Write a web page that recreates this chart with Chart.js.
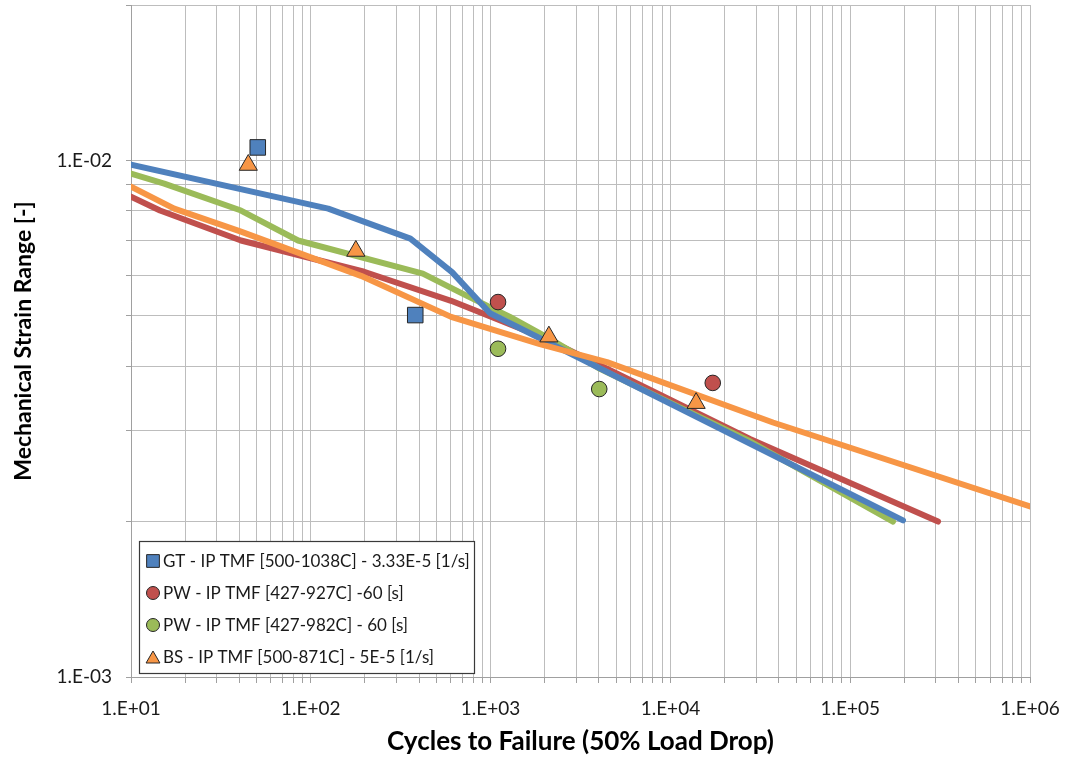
<!DOCTYPE html>
<html>
<head>
<meta charset="utf-8">
<script src="https://cdn.jsdelivr.net/npm/chart.js@4.4.1/dist/chart.umd.min.js"></script>
<style>
  html, body { margin: 0; padding: 0; background: #ffffff; }
  #wrap { width: 1072px; height: 761px; }
</style>
</head>
<body>
<div id="wrap"><canvas id="chart" width="1072" height="761"></canvas></div>
<script>
// ---- Test data (cycles to failure vs. mechanical strain range) ----
const seriesLabels = [
  'GT - IP TMF [500-1038C] - 3.33E-5 [1/s]',
  'PW - IP TMF [427-927C] -60 [s]',
  'PW - IP TMF [427-982C] - 60 [s]',
  'BS - IP TMF [500-871C] - 5E-5 [1/s]'
];

const gtCycles = [50.7, 381];
const gtStrain = [0.0106, 0.00502];

const pw927Cycles = [1100, 17200];
const pw927Strain = [0.00532, 0.00371];

const pw982Cycles = [1100, 4020];
const pw982Strain = [0.00432, 0.00361];

const bsCycles = [44.9, 178, 2110, 13900];
const bsStrain = [0.0098, 0.00668, 0.00456, 0.00339];

// ---- Life-prediction curves ----
const gtFitCycles = [10, 125, 358, 610, 993, 196600];
const gtFitStrain = [0.00982, 0.00807, 0.00706, 0.00608, 0.00506, 0.00201];

const pw927FitCycles = [10, 14.5, 40.9, 198, 603, 2060, 27700, 308000];
const pw927FitStrain = [0.00851, 0.0080, 0.00700, 0.00609, 0.00535, 0.00451, 0.00289, 0.0020];

const pw982FitCycles = [10, 15.3, 40.9, 85, 420, 739, 1282, 2150, 4060, 27700, 173000];
const pw982FitStrain = [0.00943, 0.00902, 0.0080, 0.00700, 0.00604, 0.00547, 0.00498, 0.00451, 0.00395, 0.00286, 0.0020];

const bsFitCycles = [10, 17.4, 40.9, 190, 603, 1880, 4440, 37200, 1000000];
const bsFitStrain = [0.0089, 0.00807, 0.00728, 0.00598, 0.00498, 0.00441, 0.00407, 0.00311, 0.00214];

// ---- Axis tick labels (decades) ----
const xTickValues = [1e1, 1e2, 1e3, 1e4, 1e5, 1e6];
const xTickLabels = ['1.E+01', '1.E+02', '1.E+03', '1.E+04', '1.E+05', '1.E+06'];
const yTickValues = [1e-3, 1e-2];
const yTickLabels = ['1.E-03', '1.E-02'];

const colors = {
  blue: '#4F81BD',
  red: '#C0504D',
  green: '#9BBB59',
  orange: '#F79646'
};

const toPoints = (xs, ys) => xs.map((x, i) => ({ x: x, y: ys[i] }));

// All 1..9 multiples per decade, so that every minor gridline is drawn
function logTicks(min, max) {
  const out = [];
  for (let e = Math.floor(Math.log10(min)); e <= Math.ceil(Math.log10(max)); e++) {
    for (let m = 1; m <= 9; m++) {
      const v = +(m * Math.pow(10, e)).toPrecision(6);
      if (v >= min * 0.999999 && v <= max * 1.000001) out.push({ value: v });
    }
  }
  return out;
}

function decadeLabel(value, values, labels) {
  for (let i = 0; i < values.length; i++) {
    if (Math.abs(Math.log10(value) - Math.log10(values[i])) < 1e-6) return labels[i];
  }
  return '';
}

function markerSet(label, xs, ys, color, style, radius) {
  return {
    type: 'scatter',
    label: label,
    data: toPoints(xs, ys),
    pointStyle: style,
    pointRadius: radius,
    pointHoverRadius: radius,
    backgroundColor: color,
    borderColor: '#262626',
    pointBorderWidth: 1,
    showLine: false,
    isMarker: true
  };
}

function curveSet(xs, ys, color) {
  return {
    type: 'line',
    label: '',
    data: toPoints(xs, ys),
    borderColor: color,
    backgroundColor: color,
    borderWidth: 6,
    pointRadius: 0,
    pointHoverRadius: 0,
    tension: 0,
    fill: false,
    borderCapStyle: 'round',
    borderJoinStyle: 'round',
    isMarker: false
  };
}

// Legend boxed inside the lower-left of the plot
const insideLegend = {
  id: 'insideLegend',
  afterDatasetsDraw(chart) {
    const ctx = chart.ctx;
    const area = chart.chartArea;
    const left = area.left + 8, top = 541, w = 335, h = 132;
    ctx.save();
    ctx.fillStyle = '#ffffff';
    ctx.fillRect(left, top, w, h);
    ctx.strokeStyle = '#3a3a3a';
    ctx.lineWidth = 1.2;
    ctx.strokeRect(left + 0.5, top + 0.5, w, h);
    const markers = chart.data.datasets.filter(d => d.isMarker);
    ctx.font = '17px Lato';
    ctx.textBaseline = 'middle';
    markers.forEach((d, i) => {
      const cy = top + 20 + i * 32;
      ctx.fillStyle = d.backgroundColor;
      ctx.strokeStyle = d.borderColor;
      ctx.lineWidth = 1;
      const r = d.pointStyle === 'rect' ? 9 : (d.pointStyle === 'triangle' ? 8 : 6.5);
      Chart.helpers.drawPoint(ctx, { pointStyle: d.pointStyle, radius: r, borderWidth: 1 }, left + 14, cy + (d.pointStyle === 'triangle' ? 2 : 0));
      ctx.fillStyle = '#1a1a1a';
      ctx.fillText(d.label, left + 24, cy + 1);
    });
    ctx.restore();
  }
};

// Plot area is fixed by the scale boxes; drop the label overhang padding
function fixBox(size, key) {
  return s => {
    s[key] = size;
    s.paddingTop = 0; s.paddingBottom = 0; s.paddingLeft = 0; s.paddingRight = 0;
  };
}

const ctx = document.getElementById('chart').getContext('2d');
new Chart(ctx, {
  data: {
    datasets: [
      markerSet(seriesLabels[0], gtCycles, gtStrain, colors.blue, 'rect', 11),
      markerSet(seriesLabels[1], pw927Cycles, pw927Strain, colors.red, 'circle', 7.8),
      markerSet(seriesLabels[2], pw982Cycles, pw982Strain, colors.green, 'circle', 7.8),
      markerSet(seriesLabels[3], bsCycles, bsStrain, colors.orange, 'triangle', 10.5),
      curveSet(bsFitCycles, bsFitStrain, colors.orange),
      curveSet(gtFitCycles, gtFitStrain, colors.blue),
      curveSet(pw982FitCycles, pw982FitStrain, colors.green),
      curveSet(pw927FitCycles, pw927FitStrain, colors.red)
    ]
  },
  options: {
    responsive: false,
    animation: false,
    layout: { autoPadding: false, padding: { top: 5, right: 42, left: 0, bottom: 0 } },
    plugins: {
      legend: { display: false },
      tooltip: { enabled: false }
    },
    scales: {
      x: {
        type: 'logarithmic',
        position: 'bottom',
        min: 10,
        max: 1e6,
        afterBuildTicks: s => { s.ticks = logTicks(10, 1e6); },
        afterFit: fixBox(84, 'height'),
        ticks: {
          autoSkip: false,
          maxRotation: 0,
          padding: 14,
          color: '#1a1a1a',
          font: { family: 'Lato', size: 19 },
          callback: v => decadeLabel(v, xTickValues, xTickLabels)
        },
        grid: { color: '#bdbdbd', lineWidth: 1, tickLength: 6, tickColor: '#a0a0a0' },
        border: { color: '#a0a0a0', width: 1 },
        title: {
          display: true,
          text: 'Cycles to Failure (50% Load Drop)',
          color: '#000000',
          font: { family: 'Lato', size: 26, weight: 'bold' },
          padding: { top: 4, bottom: 4 }
        }
      },
      y: {
        type: 'logarithmic',
        position: 'left',
        min: 1e-3,
        max: 2e-2,
        afterBuildTicks: s => { s.ticks = logTicks(1e-3, 2e-2); },
        afterFit: fixBox(131, 'width'),
        ticks: {
          autoSkip: false,
          padding: 14,
          color: '#1a1a1a',
          font: { family: 'Lato', size: 19 },
          callback: v => decadeLabel(v, yTickValues, yTickLabels)
        },
        grid: { color: '#bdbdbd', lineWidth: 1, tickLength: 5, tickColor: '#a0a0a0' },
        border: { color: '#a0a0a0', width: 1 },
        title: {
          display: true,
          text: 'Mechanical Strain Range [-]',
          color: '#000000',
          font: { family: 'Lato', size: 23, weight: 'bold' },
          padding: { top: 10, bottom: 0 }
        }
      }
    }
  },
  plugins: [insideLegend]
});
</script>
</body>
</html>
